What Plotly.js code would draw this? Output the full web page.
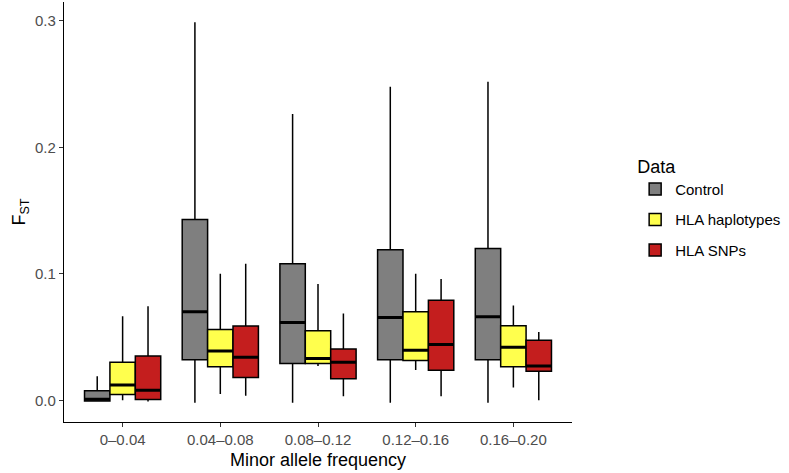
<!DOCTYPE html>
<html>
<head>
<meta charset="utf-8">
<script src="https://cdn.plot.ly/plotly-3.0.1.min.js"></script>
<style>
  html, body { margin: 0; padding: 0; background: #fff; }
  #chart { width: 789px; height: 473px; }
</style>
</head>
<body>
<div id="chart"></div>
<script>
// Minor allele frequency bins
const categories = ['0–0.04', '0.04–0.08', '0.08–0.12', '0.12–0.16', '0.16–0.20'];

// Control
const controlLow  = [-0.001, -0.002, -0.002, -0.002, -0.002];
const controlQ1   = [-0.0005, 0.032, 0.029, 0.032, 0.032];
const controlMed  = [0.0008, 0.070, 0.0615, 0.0655, 0.066];
const controlQ3   = [0.0075, 0.143, 0.108, 0.119, 0.120];
const controlHigh = [0.019, 0.299, 0.2265, 0.248, 0.252];

// HLA haplotypes
const hapLow  = [0.0, 0.005, 0.027, 0.024, 0.010];
const hapQ1   = [0.0045, 0.0265, 0.029, 0.0315, 0.0265];
const hapMed  = [0.012, 0.039, 0.033, 0.0395, 0.042];
const hapQ3   = [0.030, 0.056, 0.055, 0.070, 0.059];
const hapHigh = [0.0665, 0.100, 0.092, 0.100, 0.075];

// HLA SNPs
const snpLow  = [-0.001, 0.0035, 0.0032, 0.0032, 0.0];
const snpQ1   = [0.0005, 0.018, 0.017, 0.0237, 0.023];
const snpMed  = [0.008, 0.034, 0.030, 0.044, 0.027];
const snpQ3   = [0.035, 0.0588, 0.0406, 0.079, 0.0475];
const snpHigh = [0.0744, 0.108, 0.0686, 0.096, 0.054];

const seriesNames = ['Control', 'HLA haplotypes', 'HLA SNPs'];
const seriesColors = ['#7f7f7f', '#ffff4d', '#c41e1e'];

const stats = [
    [controlLow, controlQ1, controlMed, controlQ3, controlHigh],
    [hapLow, hapQ1, hapMed, hapQ3, hapHigh],
    [snpLow, snpQ1, snpMed, snpQ3, snpHigh]
];

const traces = [];
stats.forEach((s, i) => {
    traces.push({
        type: 'box',
        name: seriesNames[i],
        legendgroup: 'g' + i,
        x: categories,
        lowerfence: s[0],
        q1: s[1],
        median: s[2],
        q3: s[3],
        upperfence: s[4],
        offsetgroup: 'g' + i,
        fillcolor: seriesColors[i],
        line: { color: '#000000', width: 1.5 },
        whiskerwidth: 0,
        boxpoints: false,
        hoverinfo: 'skip'
    });
});

// thicker median bars like ggplot (flat boxes drawn on top)
stats.forEach((s, i) => {
    traces.push({
        type: 'box',
        name: seriesNames[i] + ' median',
        legendgroup: 'g' + i,
        x: categories,
        lowerfence: s[2],
        q1: s[2],
        median: s[2],
        q3: s[2],
        upperfence: s[2],
        offsetgroup: 'g' + i,
        fillcolor: 'rgba(0,0,0,0)',
        line: { color: '#000000', width: 3 },
        whiskerwidth: 0,
        boxpoints: false,
        showlegend: false,
        hoverinfo: 'skip'
    });
});

const layout = {
    width: 789,
    height: 473,
    margin: { l: 64, r: 217, t: 2, b: 51 },
    paper_bgcolor: '#FFFFFF',
    plot_bgcolor: '#FFFFFF',
    font: { family: 'Liberation Sans, Arial, sans-serif', color: '#000000' },
    boxmode: 'group',
    boxgap: 0.22,
    boxgroupgap: 0,
    showlegend: true,
    xaxis: {
        type: 'category',
        range: [-0.6, 4.6],
        showline: true,
        linecolor: '#000000',
        linewidth: 1.2,
        ticks: 'outside',
        ticklen: 4,
        tickcolor: '#333333',
        tickfont: { size: 15, color: '#4d4d4d' },
        showgrid: false,
        zeroline: false,
        title: { text: 'Minor allele frequency', font: { size: 18, color: '#000000' }, standoff: 6 }
    },
    yaxis: {
        range: [-0.0172, 0.315],
        tickvals: [0, 0.1, 0.2, 0.3],
        ticktext: ['0.0', '0.1', '0.2', '0.3'],
        showline: true,
        linecolor: '#000000',
        linewidth: 1.2,
        ticks: 'outside',
        ticklen: 4,
        tickcolor: '#333333',
        tickfont: { size: 15, color: '#4d4d4d' },
        showgrid: false,
        zeroline: false,
        title: { text: 'F<sub>ST</sub>', font: { size: 18, color: '#000000' }, standoff: 4 }
    },
    legend: {
        xref: 'container',
        yref: 'container',
        x: 0.805,
        y: 0.684,
        xanchor: 'left',
        yanchor: 'top',
        font: { size: 15, color: '#000000' },
        title: { text: 'Data', font: { size: 18, color: '#000000' } },
        tracegroupgap: 8,
        bgcolor: 'rgba(0,0,0,0)',
        borderwidth: 0
    }
};

Plotly.newPlot('chart', traces, layout, { displayModeBar: false, responsive: false });
</script>
</body>
</html>
